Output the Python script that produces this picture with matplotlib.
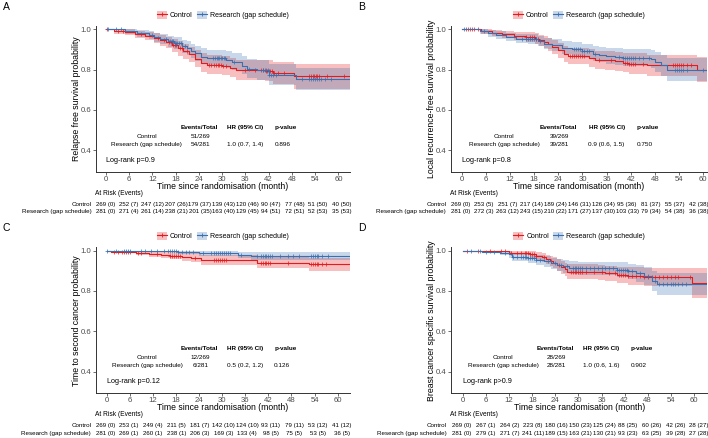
import numpy as np
import matplotlib
matplotlib.use('Agg')
import matplotlib.pyplot as plt
from matplotlib.lines import Line2D
from matplotlib.patches import Patch
from matplotlib.transforms import blended_transform_factory

plt.rcParams['font.family'] = ['Liberation Sans', 'DejaVu Sans']

W, H = 708, 438
RED = '#E41A1C'
BLUE = '#3A70B0'
ARMS = ['Control', 'Research (gap schedule)']
MONTHS = [0, 6, 12, 18, 24, 30, 36, 42, 48, 54, 60]

# ---------------- A : relapse free survival ----------------
a_ctl_t = [0, 2, 5, 7.5, 10, 12.5, 14, 15.5, 17, 18.5, 20, 21.5, 23, 24.5, 26, 30, 32, 33.5, 41, 43, 48.5]
a_ctl_s = [1, .99, .985, .975, .965, .955, .945, .935, .92, .905, .89, .875, .855, .835, .825, .82, .81, .80, .795, .785, .77]
a_ctl_lo = [1, .978, .97, .957, .945, .93, .918, .906, .888, .87, .853, .836, .813, .79, .78, .773, .762, .75, .742, .73, .705]
a_ctl_hi = [1, 1, 1, .994, .987, .98, .972, .964, .952, .94, .927, .914, .897, .88, .872, .867, .858, .85, .848, .84, .83]
a_ctl_cens = [0.3, 3, 4.5, 9, 13.5, 15, 16.2, 16.8, 17.3, 17.8, 18.2, 19, 19.6, 21, 26.5, 27.2, 27.8, 28.3,
              28.8, 29.2, 29.7, 30.3, 31, 36, 38.5, 40, 40.5, 41.2, 41.6, 42, 42.4, 42.8, 43.5, 44.5, 46,
              52.5, 53, 53.4, 53.8, 54.2, 54.6, 55, 57, 61.5]
a_res_t = [0, 5, 8, 11, 12.5, 14, 16, 17.5, 19.5, 21, 22, 23, 24.5, 26, 31, 32.5, 35, 36.5, 39, 42, 49]
a_res_s = [1, .99, .98, .97, .96, .95, .94, .93, .915, .905, .89, .88, .865, .858, .85, .84, .82, .805, .797, .775, .752]
a_res_lo = [1, .978, .963, .95, .938, .925, .913, .901, .884, .872, .856, .845, .828, .82, .81, .798, .776, .76, .75, .726, .698]
a_res_hi = [1, 1, .997, .99, .983, .976, .968, .96, .948, .94, .927, .918, .905, .898, .892, .884, .866, .853, .846, .827, .807]
a_res_cens = [0.5, 2.5, 4, 12, 15.5, 16.5, 17, 17.4, 17.8, 18.1, 18.4, 18.8, 19.3, 20.5, 27.5, 28.2, 28.6, 29,
              29.3, 29.6, 30, 30.4, 30.8, 33, 37, 40.5, 41, 41.4, 41.8, 42.2, 42.6, 43, 44, 50.5, 52.5, 53,
              53.5, 54, 54.5, 55, 55.5, 56.5, 58]
a_risk_ctl = ['269 (0)', '252 (7)', '247 (12)', '207 (26)', '179 (37)', '139 (43)', '120 (46)', '90 (47)', '77 (48)', '51 (50)', '40 (50)']
a_risk_res = ['281 (0)', '271 (4)', '261 (14)', '238 (21)', '201 (35)', '163 (40)', '129 (45)', '94 (51)', '72 (51)', '52 (53)', '35 (53)']
a_events = ['51/269', '54/281']
a_hr = '1.0 (0.7, 1.4)'
a_p = '0.896'
a_logrank = 'Log-rank p=0.9'

# ---------------- B : local recurrence-free survival ----------------
b_ctl_t = [0, 4.8, 7.5, 10, 13, 16, 18.3, 19.2, 20.5, 21.5, 22.5, 24, 25.5, 26.5, 31.5, 33, 35.5, 38, 40, 41.5, 46, 58.5]
b_ctl_s = [1, .99, .982, .975, .967, .962, .954, .945, .935, .925, .912, .896, .879, .869, .858, .85, .846, .841, .835, .83, .822, .80]
b_ctl_lo = [1, .978, .966, .956, .946, .939, .928, .917, .905, .893, .878, .86, .84, .829, .815, .805, .8, .794, .786, .78, .77, .738]
b_ctl_hi = [1, 1, .998, .994, .988, .985, .98, .973, .965, .957, .946, .932, .918, .909, .9, .894, .892, .888, .884, .88, .874, .862]
b_ctl_cens = [1, 1.5, 2, 2.5, 3, 4, 16, 17, 17.5, 18, 18.5, 19, 27, 27.5, 28, 28.5, 29, 29.5, 30, 30.5, 34,
              37, 40.5, 41, 41.5, 42, 42.5, 43, 45, 52.5, 53, 53.5, 54, 54.5, 55, 56, 57]
b_res_t = [0, 4.5, 6.5, 8.5, 11, 13.5, 16.5, 19, 20.5, 22.5, 25, 27.5, 30, 32.5, 34, 35.8, 38, 40, 47, 48, 49.5, 51]
b_res_s = [1, .99, .98, .97, .962, .954, .95, .94, .929, .92, .909, .9, .891, .879, .874, .868, .863, .858, .852, .838, .821, .80]
b_res_lo = [1, .978, .964, .952, .942, .932, .927, .915, .902, .892, .879, .868, .857, .843, .836, .829, .823, .817, .808, .79, .77, .742]
b_res_hi = [1, 1, .996, .99, .984, .978, .975, .967, .958, .951, .942, .935, .928, .918, .914, .909, .905, .901, .898, .887, .873, .86]
b_res_cens = [0.5, 5.5, 15, 16, 16.5, 17, 17.5, 18, 18.5, 19.5, 28, 28.5, 29, 29.5, 30, 30.5, 31, 31.5, 33,
              39, 40, 40.5, 41, 41.5, 42, 42.5, 43, 44, 45, 46.5, 53, 53.5, 54, 54.5, 55, 56, 60]
b_risk_ctl = ['269 (0)', '253 (5)', '251 (7)', '217 (14)', '189 (24)', '146 (31)', '126 (34)', '95 (36)', '81 (37)', '55 (37)', '42 (38)']
b_risk_res = ['281 (0)', '272 (3)', '263 (12)', '243 (15)', '210 (22)', '171 (27)', '137 (30)', '103 (33)', '79 (34)', '54 (38)', '36 (38)']
b_events = ['39/269', '39/281']
b_hr = '0.9 (0.6, 1.5)'
b_p = '0.750'
b_logrank = 'Log-rank p=0.8'

# ---------------- C : time to second cancer ----------------
c_ctl_t = [0, 1, 7.5, 11, 14, 16.5, 19.5, 22, 24.5, 39, 52.5]
c_ctl_s = [1, .996, .99, .985, .981, .975, .97, .965, .953, .941, .932]
c_ctl_lo = [1, .988, .978, .971, .965, .957, .95, .943, .928, .912, .9]
c_ctl_hi = [1, 1, 1, .998, .996, .993, .99, .987, .978, .97, .965]
c_ctl_cens = [2, 3, 4, 4.5, 5, 5.5, 6, 8, 9, 13, 16.5, 17, 17.5, 18, 18.5, 19, 23, 28, 28.5, 29, 29.5, 30,
              30.5, 31, 40, 40.5, 41, 41.5, 42, 42.5, 47, 53, 53.5, 54, 54.5, 55, 56, 57]
c_res_t = [0, 18.5, 24, 34, 37.5]
c_res_s = [1, .993, .987, .979, .973]
c_res_lo = [1, .983, .973, .962, .953]
c_res_hi = [1, 1, 1, .996, .993]
c_res_cens = [0, 2.5, 4.5, 5, 5.5, 6, 9, 10, 11.5, 13, 15, 16, 16.5, 17, 17.5, 18, 18.5, 19.5, 20.5, 21.5,
              22.5, 25, 27, 28, 28.5, 29, 29.5, 30, 30.5, 31, 31.5, 32, 35, 39, 40, 40.5, 41, 41.5, 42, 42.5,
              43, 45, 47, 48.5, 50, 53, 53.5, 54, 54.5, 55, 56, 57.5]
c_risk_ctl = ['269 (0)', '253 (1)', '249 (4)', '211 (5)', '181 (7)', '142 (10)', '124 (10)', '93 (11)', '79 (11)', '53 (12)', '41 (12)']
c_risk_res = ['281 (0)', '269 (1)', '260 (1)', '238 (1)', '206 (3)', '169 (3)', '133 (4)', '98 (5)', '75 (5)', '53 (5)', '36 (5)']
c_events = ['12/269', '6/281']
c_hr = '0.5 (0.2, 1.2)'
c_p = '0.126'
c_logrank = 'Log-rank p=0.12'

# ---------------- D : breast cancer specific survival ----------------
d_ctl_t = [0, 12, 17.5, 19, 20.5, 21.5, 22.5, 23.5, 24.5, 25.5, 26.5, 27, 35, 37, 40, 43, 47, 59.6]
d_ctl_s = [1, .99, .982, .975, .967, .957, .948, .94, .93, .918, .907, .896, .892, .887, .88, .875, .87, .838]
d_ctl_lo = [1, .978, .966, .956, .945, .933, .922, .912, .9, .886, .873, .86, .855, .848, .839, .832, .825, .765]
d_ctl_hi = [1, 1, .998, .994, .989, .981, .974, .968, .96, .95, .941, .932, .929, .926, .921, .918, .915, .912]
d_ctl_cens = [1, 4, 7, 10, 11, 12.5, 14, 15, 16, 16.5, 17, 17.5, 18, 18.5, 19, 21, 23, 25, 28, 28.5, 29,
              29.5, 30, 30.5, 31, 32, 34, 36, 38, 39.5, 40.5, 41, 41.5, 42, 43, 44, 45, 46, 47, 48, 49, 50,
              51, 52, 53, 54, 55, 56, 59]
d_res_t = [0, 5, 9.5, 12, 12.8, 17, 19, 21, 23, 24.5, 26, 27.5, 30, 40, 43, 45, 47, 49, 50.5]
d_res_s = [1, .996, .99, .982, .969, .962, .955, .947, .938, .93, .922, .916, .912, .906, .897, .887, .875, .85, .835]
d_res_lo = [1, .988, .978, .966, .95, .94, .931, .921, .91, .9, .89, .883, .878, .87, .858, .846, .83, .8, .78]
d_res_hi = [1, 1, 1, .997, .988, .983, .978, .972, .966, .96, .954, .949, .946, .942, .936, .928, .919, .9, .89]
d_res_cens = [2, 4.5, 6, 8, 11, 13, 14, 15, 15.5, 16, 16.5, 17, 17.5, 18, 18.5, 19, 20, 22, 24, 25.5, 27,
              28.5, 29, 29.5, 30, 30.5, 31, 32, 33, 34, 35, 36, 37, 38, 39, 40, 40.5, 41, 41.5, 42, 42.5,
              43, 44, 46, 48, 50, 51, 52, 53, 54, 54.5, 55, 56, 57, 58]
d_risk_ctl = ['269 (0)', '267 (1)', '264 (2)', '223 (8)', '180 (16)', '150 (23)', '125 (24)', '88 (25)', '60 (26)', '42 (26)', '28 (27)']
d_risk_res = ['281 (0)', '279 (1)', '271 (7)', '241 (11)', '189 (15)', '163 (21)', '130 (21)', '93 (23)', '63 (25)', '39 (28)', '27 (28)']
d_events = ['28/269', '28/281']
d_hr = '1.0 (0.6, 1.6)'
d_p = '0.902'
d_logrank = 'Log-rank p>0.9'


def fx(px):
    return px / W


def fy(py):
    return 1 - py / H


def step_curve(ax, t, s, lo, hi, cens, end, color):
    tt = np.append(t, end)
    ss = np.append(s, s[-1])
    ax.fill_between(tt, np.append(lo, lo[-1]), np.append(hi, hi[-1]), step='post',
                    color=color, alpha=0.28, linewidth=0)
    ax.step(tt, ss, where='post', color=color, linewidth=0.8)
    cens = np.asarray(cens)
    idx = np.searchsorted(t, cens, side='right') - 1
    ax.plot(cens, np.asarray(s)[idx], linestyle='none', marker='+', color=color,
            markersize=3.2, markeredgewidth=0.5)


def panel(fig, letter, box, xlim, risk_span, ylabel, ctl, res, risk_ctl, risk_res, events, hr, p, logrank):
    left, top, right, bottom = box
    ax = fig.add_axes([fx(left), fy(bottom), fx(right - left), (bottom - top) / H])
    ax.set_xlim(*xlim)
    ax.set_ylim(0.2935, 1.0164)
    for t, s, lo, hi, cens, col in [ctl + (RED,), res + (BLUE,)]:
        step_curve(ax, t, s, lo, hi, cens, xlim[1], col)

    ax.set_xticks(MONTHS)
    ax.set_yticks([0.4, 0.6, 0.8, 1.0])
    ax.set_yticklabels(['0.4', '0.6', '0.8', '1.0'])
    for sp in ['top', 'right']:
        ax.spines[sp].set_visible(False)
    for sp in ['left', 'bottom']:
        ax.spines[sp].set_color('#333333')
        ax.spines[sp].set_linewidth(0.7)
    ax.tick_params(labelsize=5.6, labelcolor='#4D4D4D', color='#333333', length=2, width=0.5, pad=1.2)

    # numbers table inside the plot
    fs = 4.6
    ax.text(24, 0.512, 'Events/Total', ha='center', va='center', fontsize=fs, fontweight='bold')
    ax.text(36, 0.512, 'HR (95% CI)', ha='center', va='center', fontsize=fs, fontweight='bold')
    ax.text(43.5, 0.512, 'p-value', ha='left', va='center', fontsize=fs, fontweight='bold')
    for yy, arm, ev in zip([0.47, 0.429], ARMS, events):
        ax.text(10.5, yy, arm, ha='center', va='center', fontsize=fs)
        ax.text(24.3, yy, ev, ha='center', va='center', fontsize=fs)
    ax.text(36, 0.429, hr, ha='center', va='center', fontsize=fs)
    ax.text(43.5, 0.429, p, ha='left', va='center', fontsize=fs)
    ax.text(0, 0.351, logrank, ha='left', va='center', fontsize=5.2)

    # titles
    cx = (left + right) / 2
    cy = (top + bottom) / 2
    fig.text(fx(left - 93), fy(top - 19), letter, fontsize=7.5, ha='left', va='center')
    fig.text(fx(cx), fy(bottom + 14.8), 'Time since randomisation (month)', fontsize=6.2,
             ha='center', va='center')
    fig.text(fx(left - 19.5), fy(cy), ylabel, fontsize=6.3, rotation=90, ha='center', va='center')

    # legend
    handles = [(Patch(facecolor=c, alpha=0.28, linewidth=0),
                Line2D([], [], color=c, linewidth=0.8, marker='+', markersize=3.5, markeredgewidth=0.6))
               for c in (RED, BLUE)]
    fig.legend(handles, ARMS, loc='center', bbox_to_anchor=(fx(cx), fy(top - 11)), ncol=2,
               frameon=False, fontsize=5, handlelength=1.45, handleheight=1.3, handletextpad=0.45,
               columnspacing=0.6, borderpad=0, borderaxespad=0)

    # risk table: its own invisible month scale
    r0, r60 = risk_span
    rax = fig.add_axes([fx(r0), fy(bottom + 45), fx(r60 - r0), 0.001])
    rax.set_xlim(0, 60)
    rax.axis('off')
    fig.text(fx(left - 1), fy(bottom + 21.5), 'At Risk (Events)', fontsize=4.8, ha='left', va='center')
    trans = blended_transform_factory(rax.transData, fig.transFigure)
    for dy, arm, row in [(32.5, ARMS[0], risk_ctl), (40.3, ARMS[1], risk_res)]:
        fig.text(fx(left - 4.5), fy(bottom + dy), arm, fontsize=4.5, ha='right', va='center')
        for m, val in zip(MONTHS, row):
            rax.text(m, fy(bottom + dy), val, transform=trans, fontsize=4.4, ha='center', va='center',
                     clip_on=False)
    return ax


fig = plt.figure(figsize=(W / 100, H / 100), dpi=100)

panel(fig, 'A', (96, 26, 350, 171.7), (-2.58, 63.0), (105.5, 341.7), 'Relapse free survival probability',
      (a_ctl_t, a_ctl_s, a_ctl_lo, a_ctl_hi, a_ctl_cens), (a_res_t, a_res_s, a_res_lo, a_res_hi, a_res_cens),
      a_risk_ctl, a_risk_res, a_events, a_hr, a_p, a_logrank)
panel(fig, 'B', (450.7, 26, 707.3, 171.7), (-2.73, 61.0), (460.2, 698.7), 'Local recurrence-free survival probability',
      (b_ctl_t, b_ctl_s, b_ctl_lo, b_ctl_hi, b_ctl_cens), (b_res_t, b_res_s, b_res_lo, b_res_hi, b_res_cens),
      b_risk_ctl, b_risk_res, b_events, b_hr, b_p, b_logrank)
panel(fig, 'C', (95.7, 247.4, 350, 393), (-2.86, 63.2), (105.5, 341.7), 'Time to second cancer probability',
      (c_ctl_t, c_ctl_s, c_ctl_lo, c_ctl_hi, c_ctl_cens), (c_res_t, c_res_s, c_res_lo, c_res_hi, c_res_cens),
      c_risk_ctl, c_risk_res, c_events, c_hr, c_p, c_logrank)
panel(fig, 'D', (451, 247.4, 707.3, 393), (-3.12, 63.5), (462, 699), 'Breast cancer specific survival probability',
      (d_ctl_t, d_ctl_s, d_ctl_lo, d_ctl_hi, d_ctl_cens), (d_res_t, d_res_s, d_res_lo, d_res_hi, d_res_cens),
      d_risk_ctl, d_risk_res, d_events, d_hr, d_p, d_logrank)

fig.savefig('out.png', dpi=100)
